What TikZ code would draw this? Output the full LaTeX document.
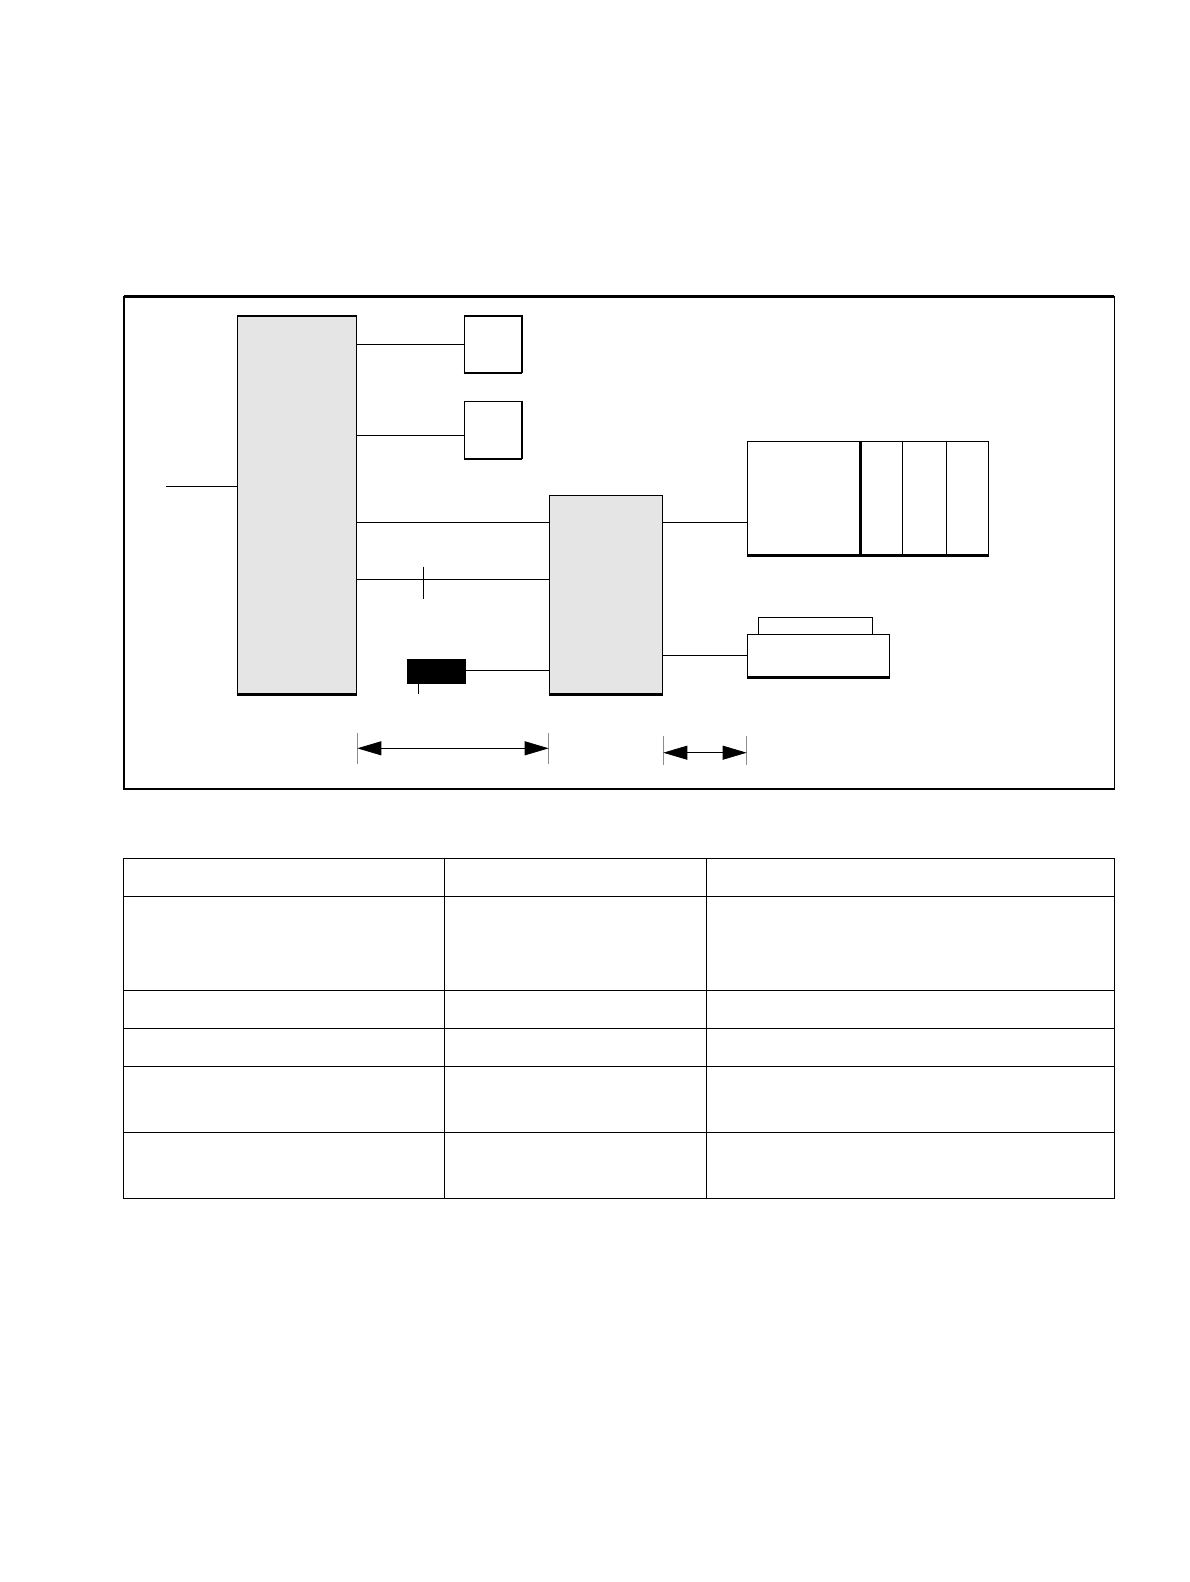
\documentclass[tikz,border=0pt]{standalone}
\usepackage{xcolor}
\usetikzlibrary{arrows.meta}

\tikzset{
	graybox/.style={draw, line width=1.2pt, fill=black!10!white, inner sep=0pt},
	whitebox/.style={draw, line width=1.2pt, fill=white, inner sep=0pt},
	wire/.style={line width=1pt},
	grid/.style={line width=1.4pt},
	dimtick/.style={line width=0.8pt, color=black!45!white},
	dimarrow/.style={{Triangle[length=24pt,width=14pt]}-{Triangle[length=24pt,width=14pt]}, line width=0.8pt}
}

\begin{document}
\begin{tikzpicture}[x=1pt,y=-1pt]

\useasboundingbox (0,0) rectangle (1190,1582);

% frame round the diagram
\draw[line width=1.4pt] (124,296.7) rectangle (1114.3,789);
\draw[line width=2.6pt] (124,296.7)--(1114.3,296.7);

% blocks
\node[graybox, minimum width=119.4pt, minimum height=378pt] (host) at (297,505) {};
\node[whitebox, minimum width=57pt, minimum height=56.7pt] (memA) at (492.8,344.3) {};
\node[whitebox, minimum width=57pt, minimum height=57pt] (memB) at (492.8,429.8) {};
\node[graybox, minimum width=113.4pt, minimum height=198.7pt] (ctrl) at (606,594.7) {};
\node[draw, fill=black, inner sep=0pt, minimum width=57.4pt, minimum height=23.7pt] (plug) at (436,670.9) {};
\node[whitebox, minimum width=241.4pt, minimum height=113.7pt] (drive) at (868,498.2) {};
\node[whitebox, minimum width=114pt, minimum height=17pt] (paperin) at (815.7,625.8) {};
\node[whitebox, minimum width=142pt, minimum height=42.7pt] (printer) at (818.3,655.7) {};

% heavier lower edges
\foreach \n in {host,memA,memB,ctrl,drive,printer}
	{
		\draw[line width=2.4pt] (\n.south west)--(\n.south east);
	}
\foreach \n in {memA,memB}
	{
		\draw[line width=2pt] (\n.north east)--(\n.south east);
	}

% slots of the drive
\foreach \dx/\w in {113.7/2.2,156/1.2,199.4/1.2}
	{
		\draw[line width=\w pt] ([xshift=\dx pt]drive.north west)--([xshift=\dx pt]drive.south west);
	}

% connectors
\coordinate (hostin) at (166,486.7);
\draw[wire] (hostin)--(hostin -| host.west);

\draw[wire] (memA.west -| host.east)--(memA.west);
\coordinate (memBin) at ([yshift=-5.5pt]memB.west);
\draw[wire] (memBin -| host.east)--(memBin);

\coordinate (busA) at ([yshift=-28pt]ctrl.north west);
\coordinate (busB) at ([yshift=-85pt]ctrl.north west);
\draw[wire] (busA -| host.east)--(busA);
\draw[wire] (busB -| host.east)--(busB);

\coordinate (notch) at (423.3,580.3);
\draw[wire] (notch) ++(0,-13.6)--++(0,32.6);

\draw[wire] (plug.east)--(plug.east -| ctrl.west);
\draw[wire] ([xshift=11pt]plug.south west)--++(0,10.6);

\draw[wire] (busA -| ctrl.east)--(busA -| drive.west);
\draw[wire] (printer.west -| ctrl.east)--(printer.west);

% dimension arrows
\foreach \n in {host.east,ctrl.west}
	{
		\draw[dimtick] (\n |- 0,733)--(\n |- 0,764);
	}
\draw[dimarrow] (host.east |- 0,748.3)--(ctrl.west |- 0,748.3);

\foreach \n in {ctrl.east,drive.west}
	{
		\draw[dimtick] (\n |- 0,736)--(\n |- 0,765);
	}
\draw[dimarrow] (ctrl.east |- 0,752.7)--(drive.west |- 0,752.7);

% table
\draw[grid] (123.3,858.3) rectangle (1114.3,1198.3);
\foreach \y in {896.3,990.3,1028.3,1066.3,1132.3}
	{
		\draw[grid] (123.3,\y)--(1114.3,\y);
	}
\foreach \x in {444.3,706.3}
	{
		\draw[grid] (\x,858.3)--(\x,1198.3);
	}

\end{tikzpicture}
\end{document}
